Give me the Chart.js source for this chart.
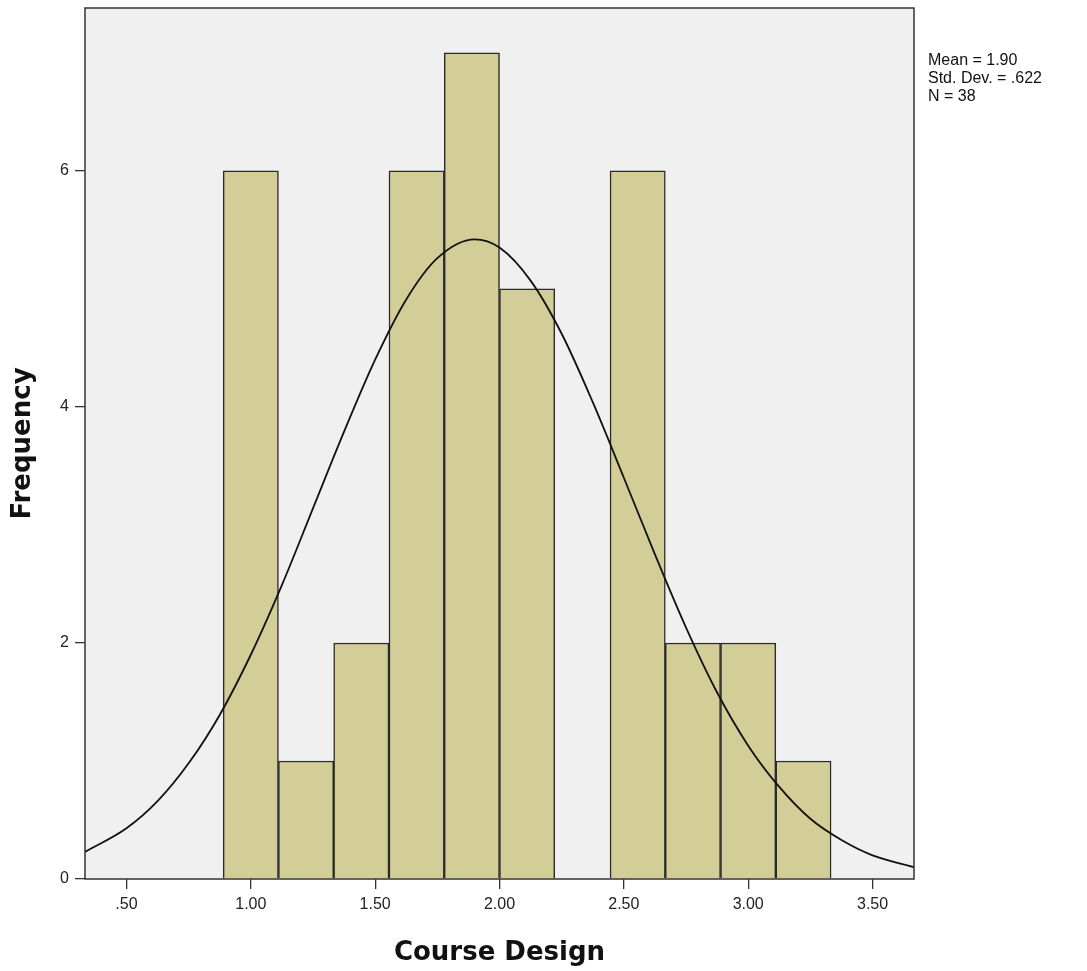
<!DOCTYPE html>
<html>
<head>
<meta charset="utf-8">
<title>Course Design histogram</title>
<script src="https://cdn.jsdelivr.net/npm/chart.js@4/dist/chart.umd.min.js"></script>
<style>
  html, body { margin: 0; padding: 0; background: #fff; }
  #wrap { width: 1087px; height: 971px; }
</style>
</head>
<body>
<div id="wrap"><canvas id="hist" width="1087" height="971"></canvas></div>
<script>
// histogram bins (centres, width 2/9) and counts
const binCenters = [1.0, 1.2222, 1.4444, 1.6667, 1.8889, 2.1111, 2.3333, 2.5556, 2.7778, 3.0, 3.2222];
const counts     = [6, 1, 2, 6, 7, 5, 0, 6, 2, 2, 1];

// normal curve
const curveX = [0.333, 0.5, 0.625, 0.75, 0.875, 1.0, 1.125, 1.25, 1.375, 1.5, 1.625, 1.75, 1.9,
                2.0, 2.125, 2.25, 2.375, 2.5, 2.625, 2.75, 2.875, 3.0, 3.125, 3.25, 3.375, 3.5, 3.667];
const curveY = [0.23, 0.43, 0.66, 0.98, 1.39, 1.90, 2.49, 3.14, 3.79, 4.40, 4.91, 5.26, 5.42,
                5.35, 5.07, 4.62, 4.04, 3.40, 2.75, 2.13, 1.58, 1.13, 0.78, 0.51, 0.33, 0.20, 0.10];

const xTicks = [0.5, 1.0, 1.5, 2.0, 2.5, 3.0, 3.5];
const yTicks = [0, 2, 4, 6];
const statsLines = ['Mean = 1.90', 'Std. Dev. = .622', 'N = 38'];

const FONT = "'Liberation Sans', Arial, sans-serif";
const TITLE_FONT = "'DejaVu Sans', Verdana, sans-serif";

const plotFrame = {
    id: 'plotFrame',
    beforeDraw(chart) {
        const { ctx, chartArea: a } = chart;
        ctx.save();
        ctx.fillStyle = '#f0f0f0';
        ctx.fillRect(a.left, a.top, a.right - a.left, a.bottom - a.top);
        ctx.restore();
    },
    afterDraw(chart) {
        const { ctx, chartArea: a } = chart;
        ctx.save();
        ctx.strokeStyle = '#333';
        ctx.lineWidth = 1.5;
        ctx.strokeRect(a.left, a.top, a.right - a.left, a.bottom - a.top);
        // stats box text
        ctx.fillStyle = '#111';
        ctx.font = '16px ' + FONT;
        ctx.textBaseline = 'middle';
        statsLines.forEach((t, i) => ctx.fillText(t, a.right + 14, 61 + i * 18));
        ctx.restore();
    }
};

new Chart(document.getElementById('hist'), {
    data: {
        datasets: [
            {
                type: 'line',
                data: curveX.map((x, i) => ({ x: x, y: curveY[i] })),
                borderColor: '#111',
                borderWidth: 1.8,
                pointRadius: 0,
                cubicInterpolationMode: 'monotone',
                order: 0
            },
            {
                type: 'bar',
                data: binCenters.map((x, i) => ({ x: x, y: counts[i] })),
                backgroundColor: '#d3ce97',
                borderColor: '#2a2a2a',
                borderWidth: 1.5,
                barPercentage: 1,
                categoryPercentage: 1,
                grouped: false,
                order: 1
            }
        ]
    },
    options: {
        responsive: false,
        animation: false,
        layout: { padding: { top: 8, right: 173, left: 0, bottom: 0 } },
        plugins: { legend: { display: false }, tooltip: { enabled: false } },
        scales: {
            x: {
                type: 'linear',
                offset: false,
                min: 1 / 3,
                max: 11 / 3,
                afterBuildTicks: s => { s.ticks = xTicks.map(v => ({ value: v })); },
                afterFit: s => { s.height = 92; s.paddingLeft = 0; s.paddingRight = 0; },
                ticks: {
                    color: '#222',
                    font: { family: FONT, size: 16 },
                    padding: 6,
                    maxRotation: 0,
                    callback: v => v.toFixed(2).replace(/^0/, '')
                },
                grid: { offset: false, drawOnChartArea: false, drawTicks: true, tickLength: 10, color: '#333', lineWidth: 1.3 },
                border: { display: false },
                title: {
                    display: true,
                    text: 'Course Design',
                    color: '#111',
                    font: { family: TITLE_FONT, size: 26, weight: 'bold' },
                    padding: { top: 2, bottom: 2 }
                }
            },
            y: {
                min: 0,
                max: 7.38,
                afterBuildTicks: s => { s.ticks = yTicks.map(v => ({ value: v })); },
                afterFit: s => { s.width = 85; s.paddingTop = 0; s.paddingBottom = 0; },
                ticks: {
                    color: '#222',
                    font: { family: FONT, size: 16 },
                    padding: 6
                },
                grid: { drawOnChartArea: false, drawTicks: true, tickLength: 10, color: '#333', lineWidth: 1.3 },
                border: { display: false },
                title: {
                    display: true,
                    text: 'Frequency',
                    color: '#111',
                    font: { family: TITLE_FONT, size: 26, weight: 'bold' },
                    padding: { top: 8, bottom: 8 }
                }
            }
        }
    },
    plugins: [plotFrame]
});
</script>
</body>
</html>
